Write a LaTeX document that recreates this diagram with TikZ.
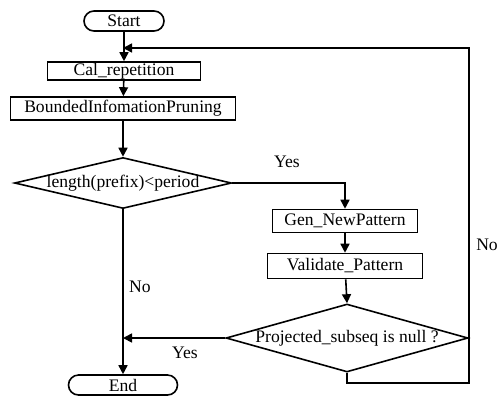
\documentclass[tikz,border=0pt]{standalone}
\usepackage{fontspec}
\setmainfont{Liberation Serif}
\usetikzlibrary{arrows.meta,shapes.geometric}

\begin{document}
\begin{tikzpicture}[x=0.5pt,y=-0.5pt,
    font=\fontsize{8.8}{10}\selectfont,
    every path/.style={line width=0.8pt},
    >={Triangle[length=4.5pt,width=4.5pt]},
    proc/.style={draw,rectangle,inner sep=0pt},
    term/.style={draw,rectangle,rounded corners=5pt,inner sep=0pt,minimum height=10pt},
    decision/.style={draw,diamond,inner sep=0pt}]
    \useasboundingbox (0,0) rectangle (501,397);

    \node[term,minimum width=40pt] (start) at (124,21) {Start};
    \node[proc,minimum width=76.5pt,minimum height=9pt] (cal) at (124,71) {Cal\_repetition};
    \node[proc,minimum width=112.5pt,minimum height=11.5pt] (bip) at (123,108.5) {BoundedInfomationPruning};
    \node[decision,minimum width=108.5pt,minimum height=25.5pt,label=center:{length(prefix)<period}] (len) at (123,183) {};
    \node[proc,minimum width=72.5pt,minimum height=11.5pt] (gen) at (345,221) {Gen\_NewPattern};
    \node[proc,minimum width=77.5pt,minimum height=12.5pt] (val) at (345,266) {Validate\_Pattern};
    \node[decision,minimum width=121pt,minimum height=34pt,label=center:{Projected\_subseq is null ?}] (null) at (347,338) {};
    \node[term,minimum width=54.5pt] (end) at (123,385) {End};

    \coordinate (ret) at (123,48);
    \coordinate (back) at (469,383);

    \draw[->] (start) -- (cal);
    \draw[->] (cal) -- (bip);
    \draw[->] (bip) -- (len);
    \draw[->] (len.east) -| (gen.north);
    \draw[->] (gen) -- (val);
    \draw[->] (val) -- (null.north);
    \draw[->] (len.south) -- (end.north);
    \draw[->] (null.west) -- (null.west -| len.south);
    \draw[->] (null.south) |- (back) |- (ret);

    \node (yes1) at (287,162) {Yes};
    \node (no1) at (140,287) {No};
    \node (yes2) at (185,353) {Yes};
    \node (no2) at (487,245) {No};
\end{tikzpicture}
\end{document}
